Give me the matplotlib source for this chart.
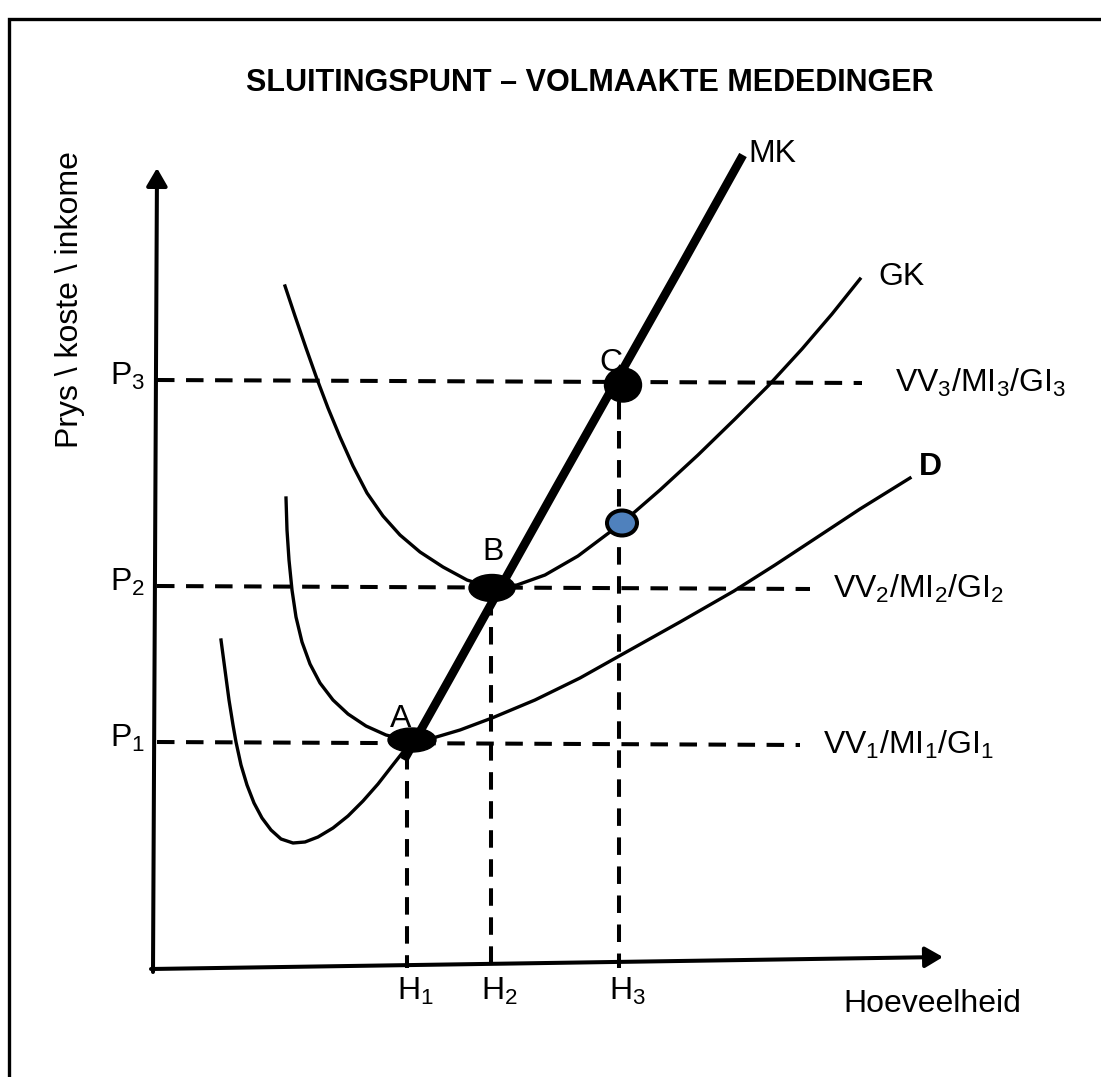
import matplotlib.pyplot as plt
from matplotlib.patches import Ellipse

plt.rcParams['font.family'] = ['Liberation Sans', 'DejaVu Sans']
plt.rcParams['mathtext.fontset'] = 'custom'
plt.rcParams['mathtext.rm'] = 'Liberation Sans'
plt.rcParams['mathtext.it'] = 'Liberation Sans'
plt.rcParams['mathtext.bf'] = 'Liberation Sans:bold'

# canvas units are the pixels of the picture, y grows downwards
WIDTH, HEIGHT = 1101, 1077

# price levels P1..P3 (y) and where their dashed lines stop (x)
price_levels = [742, 586, 380]
price_ends = [800, 810, 862]
price_labels = ["P$_1$", "P$_2$", "P$_3$"]
revenue_labels = ["VV$_1$/MI$_1$/GI$_1$", "VV$_2$/MI$_2$/GI$_2$", "VV$_3$/MI$_3$/GI$_3$"]

# quantities H1..H3 (x) and the top of their dashed lines (y)
quantities = [407, 491, 619]
quantity_tops = [752, 598, 402]
quantity_labels = ["H$_1$", "H$_2$", "H$_3$"]

# marginal cost, thin lower part and thick upper part
mk_low_x = [221, 225, 229, 233, 236, 241, 247, 254, 262, 271, 281, 293, 305, 318, 333, 348, 363, 378, 392, 403, 410]
mk_low_y = [640, 670, 700, 725, 742, 765, 785, 803, 818, 830, 839, 843, 842, 837, 828, 816, 801, 784, 766, 752, 742]
mk_x = [404, 450, 499, 556, 614, 680, 743]
mk_y = [760, 678, 590, 488, 385, 268, 155]

# average total cost (GK)
gk_x = [285, 295, 306, 317, 328, 340, 353, 367, 383, 400, 420, 443, 467, 492, 517, 545, 578, 622, 660, 698, 735, 769,
        802, 832, 860]
gk_y = [286, 316, 348, 379, 408, 437, 466, 493, 516, 535, 552, 567, 580, 588, 585, 575, 556, 523, 490, 455, 419, 385,
        349, 314, 279]

# average variable cost (D)
d_x = [286, 287, 289, 292, 296, 302, 310, 320, 333, 348, 366, 386, 410, 433, 460, 492, 535, 580, 621, 680, 734, 775,
       813, 860, 910]
d_y = [498, 530, 560, 590, 617, 642, 664, 683, 700, 714, 726, 735, 741, 738, 730, 718, 700, 678, 655, 622, 591, 565,
       540, 509, 478]

# equilibrium points A, B, C and the point on GK above H3
eq_x = [412, 492, 623]
eq_y = [740, 588, 385]
eq_names = ["A", "B", "C"]
gk_point = (622, 523)


def dashed(ax, xs, ys):
    lw = 2.9
    ax.plot(xs, ys, color="black", lw=lw, ls=(0, (12.6 / lw, 8.3 / lw)), solid_capstyle="butt")


def axis_arrow(ax, start, tip):
    ax.annotate("", xy=tip, xytext=start,
                arrowprops=dict(arrowstyle="-|>,head_length=0.6,head_width=0.35", lw=2.9, color="black",
                                mutation_scale=18, shrinkA=0, shrinkB=0))


def main():
    fig = plt.figure(figsize=(WIDTH / 100, HEIGHT / 100), dpi=100)
    ax = fig.add_axes([0, 0, 1, 1])
    ax.set_xlim(0, WIDTH)
    ax.set_ylim(HEIGHT, 0)
    ax.axis("off")

    # frame (only left and top edges show in the picture)
    ax.plot([9, 9, WIDTH], [HEIGHT, 19, 19], color="black", lw=2.4, solid_joinstyle="miter")

    # dashed guide lines
    for p, end in zip(price_levels, price_ends):
        dashed(ax, [157, end], [p, p + 3])
    for h, top in zip(quantities, quantity_tops):
        dashed(ax, [h, h], [top, 968])

    # axes
    axis_arrow(ax, (153, 972), (157, 168))
    axis_arrow(ax, (151, 969), (943, 957))

    # curves
    ax.plot(mk_low_x, mk_low_y, color="black", lw=2.4)
    ax.plot(gk_x, gk_y, color="black", lw=2.4)
    ax.plot(d_x, d_y, color="black", lw=2.4)
    ax.plot(mk_x, mk_y, color="black", lw=6.2, solid_capstyle="butt")

    # points
    sizes = [(48, 24), (46, 27), (37, 34)]
    for x, y, (w, h) in zip(eq_x, eq_y, sizes):
        ax.add_patch(Ellipse((x, y), w, h, color="black", zorder=5))
    ax.add_patch(Ellipse(gk_point, 30, 25, facecolor="#4f81bd", edgecolor="black", lw=2.9, zorder=5))

    # text
    fs = 23
    ax.text(590, 91, "SLUITINGSPUNT – VOLMAAKTE MEDEDINGER", fontsize=22, fontweight="bold",
            ha="center", va="baseline")
    ax.text(70, 300, "Prys \\ koste \\ inkome", fontsize=fs, rotation=90, ha="center", va="center")
    ax.text(843, 1012, "Hoeveelheid", fontsize=fs, va="baseline")

    for p, label in zip(price_levels, price_labels):
        ax.text(145, p + 5, label, fontsize=fs, ha="right", va="baseline")
    for p, end, label in zip(price_levels, price_ends, revenue_labels):
        ax.text(end + 23 if end < 850 else end + 33, p + 12, label, fontsize=fs, va="baseline")
    for h, label in zip(quantities, quantity_labels):
        ax.text(h - 10, 1000, label, fontsize=fs, va="baseline")

    label_shift = {"A": (-11, -13), "B": (1, -28), "C": (-12, -14)}
    for x, y, name in zip(eq_x, eq_y, eq_names):
        dx, dy = label_shift[name]
        ax.text(x + dx, y + dy, name, fontsize=fs, ha="center", va="baseline")

    ax.text(mk_x[-1] + 5, mk_y[-1] + 7, "MK", fontsize=fs, va="baseline")
    ax.text(gk_x[-1] + 18, gk_y[-1] + 6, "GK", fontsize=fs, va="baseline")
    ax.text(d_x[-1] + 9, d_y[-1] - 3, "D", fontsize=fs, fontweight="bold", va="baseline")

    fig.savefig("out.png", dpi=100)


if __name__ == "__main__":
    main()
